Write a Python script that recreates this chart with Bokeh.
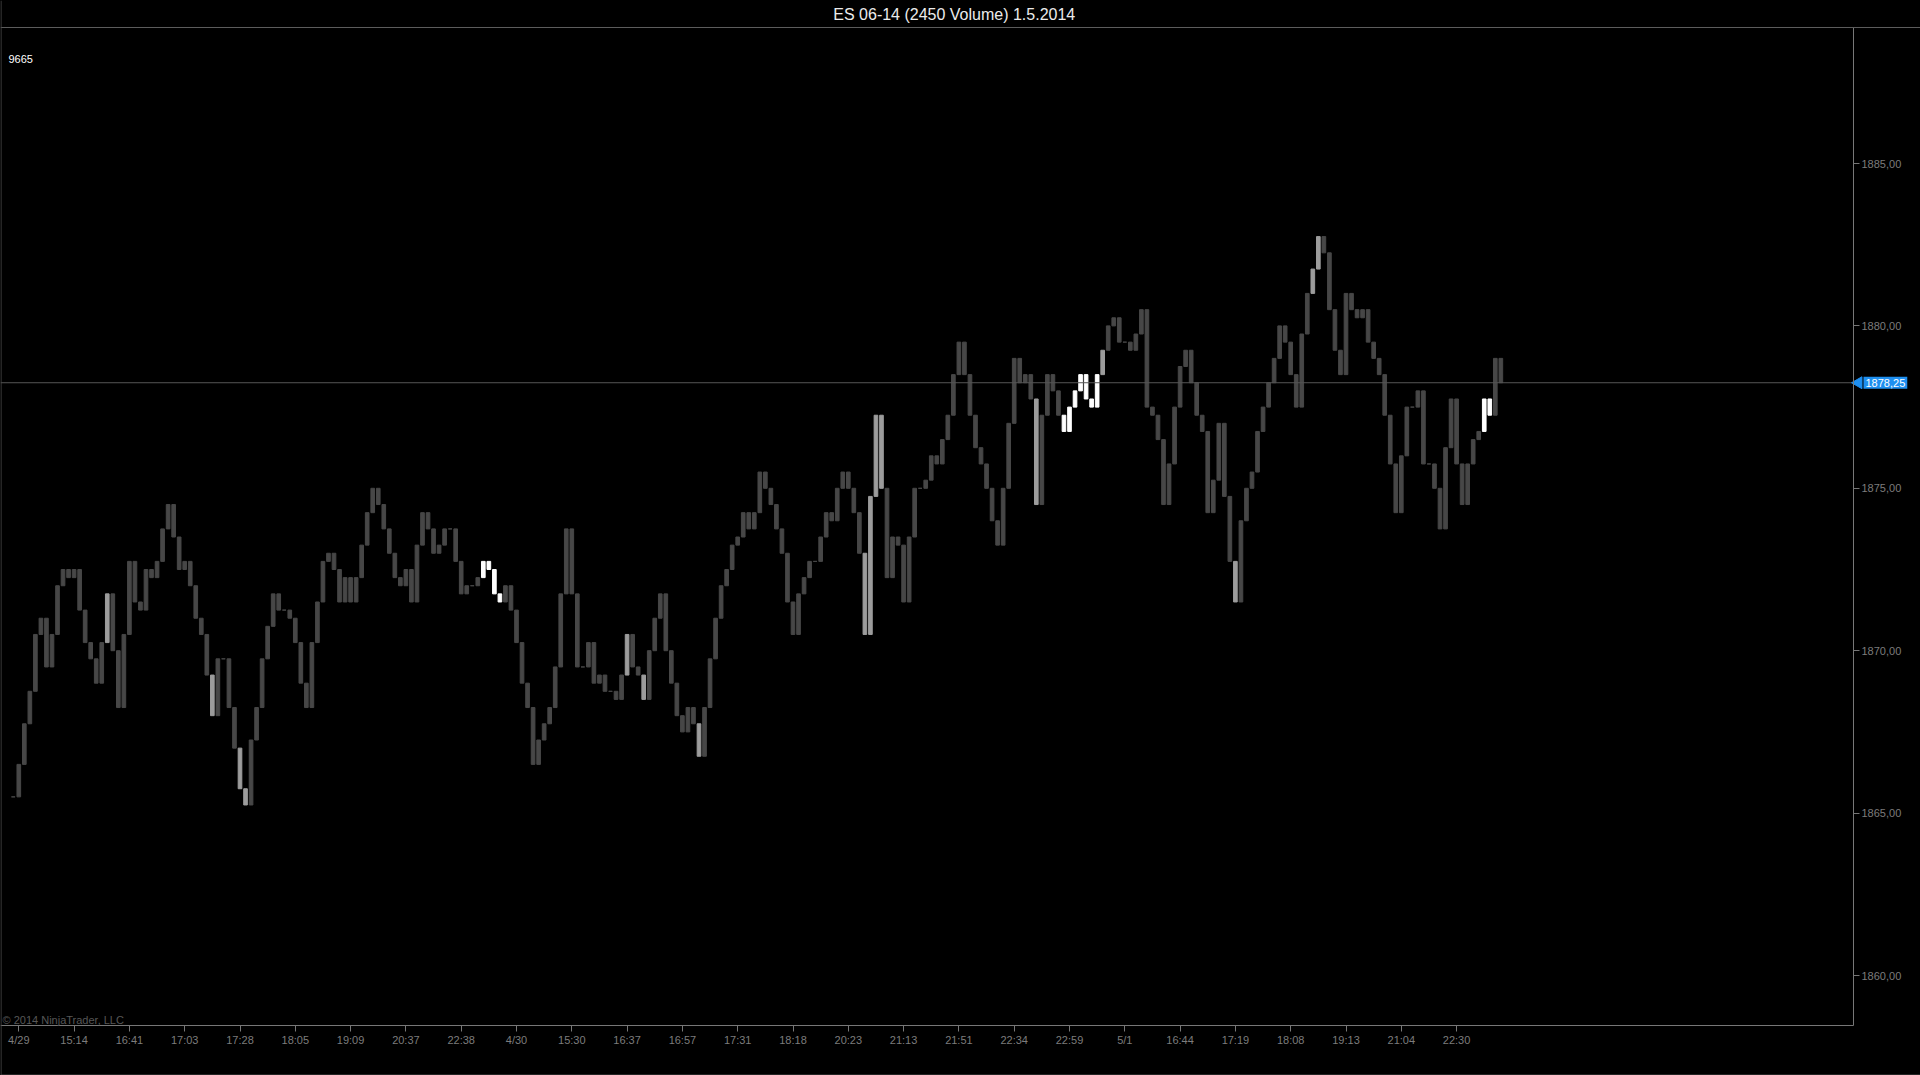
import math
from bokeh.plotting import figure
from bokeh.models import ColumnDataSource, FixedTicker, Span, Label
from bokeh.embed import file_html
from bokeh.resources import INLINE

# ---------------- data ----------------
closes = [
    1865.5, 1866.5, 1867.75, 1868.75, 1870.5, 1871, 1869.5, 1870.5, 1872, 1872.5,
    1872.25, 1872.5, 1871.25, 1870.25, 1869.75, 1869, 1870.25, 1871.75, 1870, 1868.25,
    1870.5, 1872.75, 1871.5, 1871.25, 1872.5, 1872.25, 1872.75, 1873.75, 1874.5, 1873.5,
    1872.5, 1872.75, 1872, 1871, 1870.5, 1869.25, 1868, 1869.75, 1869.75, 1868.25,
    1867, 1865.75, 1865.25, 1867.25, 1868.25, 1869.75, 1870.75, 1871.75, 1871.25, 1871.25,
    1871, 1870.25, 1869, 1868.25, 1870.25, 1871.5, 1872.75, 1873, 1872.5, 1871.5,
    1872.25, 1871.5, 1872.25, 1873.25, 1874.25, 1875, 1874.5, 1873.75, 1873, 1872.25,
    1872, 1872.5, 1871.5, 1873.25, 1874.25, 1873.75, 1873, 1873.25, 1873.75, 1873.75,
    1872.75, 1871.75, 1872, 1872, 1872.25, 1872.75, 1872.5, 1871.75, 1871.5, 1872,
    1871.25, 1870.25, 1869, 1868.25, 1866.5, 1867.25, 1867.75, 1868.25, 1869.5, 1871.75,
    1873.75, 1871.75, 1869.5, 1869.5, 1870.25, 1869, 1869.25, 1868.75, 1868.75, 1868.5,
    1869.25, 1870.5, 1869.5, 1869.25, 1868.5, 1870, 1871, 1871.75, 1870, 1869,
    1868, 1867.5, 1868.25, 1867.75, 1866.75, 1868.25, 1869.75, 1871, 1872, 1872.5,
    1873.25, 1873.5, 1874.25, 1873.75, 1874.25, 1875.5, 1875, 1874.5, 1873.75, 1873,
    1871.5, 1870.5, 1871.75, 1872.25, 1872.75, 1872.75, 1873.5, 1874.25, 1874, 1875,
    1875.5, 1875, 1874.25, 1873, 1870.5, 1874.75, 1877.25, 1875, 1872.25, 1873.5,
    1873.25, 1871.5, 1873.5, 1875, 1875, 1875.25, 1876, 1875.75, 1876.5, 1877.25,
    1878.5, 1879.5, 1878.5, 1877.25, 1876.25, 1875.75, 1875, 1874, 1873.25, 1875,
    1877, 1879, 1878.25, 1878.5, 1877.75, 1874.5, 1877.25, 1878.5, 1878, 1877.25,
    1876.75, 1877.5, 1878, 1878.5, 1877.75, 1877.5, 1878.5, 1879.25, 1880, 1880.25,
    1879.5, 1879.5, 1879.25, 1879.75, 1880.5, 1877.5, 1877.25, 1876.5, 1874.5, 1875.75,
    1877.5, 1878.75, 1879.25, 1878.25, 1877.25, 1876.75, 1874.25, 1875.25, 1877, 1874.75,
    1872.75, 1871.5, 1874, 1875, 1875.5, 1876.75, 1877.5, 1878.25, 1879, 1880,
    1879.5, 1878.5, 1877.5, 1879.75, 1881, 1881.75, 1882.75, 1882.25, 1880.5, 1879.25,
    1878.5, 1881, 1880.5, 1880.25, 1880.5, 1879.5, 1879, 1878.5, 1877.25, 1875.75,
    1874.25, 1876, 1877.5, 1877.5, 1878, 1875.75, 1875.75, 1875, 1873.75, 1876.25,
    1877.75, 1875.75, 1874.5, 1875.75, 1876.5, 1876.75, 1877.75, 1877.25, 1879, 1878.25,
]

light_bars = [17, 36, 41, 42, 111, 114, 124, 154, 155, 156, 157, 185, 197, 221, 235, 236]
white_bars = [85, 86, 87, 88, 190, 191, 192, 193, 194, 195, 196, 266, 267]

tick_bars = [1 + 10 * k for k in range(27)]
tick_labels = ["4/29", "15:14", "16:41", "17:03", "17:28", "18:05", "19:09", "20:37",
               "22:38", "4/30", "15:30", "16:37", "16:57", "17:31", "18:18", "20:23",
               "21:13", "21:51", "22:34", "22:59", "5/1", "16:44", "17:19", "18:08",
               "19:13", "21:04", "22:30"]

price_ticks = [1860, 1865, 1870, 1875, 1880, 1885]
price_tick_labels = ["1860,00", "1865,00", "1870,00", "1875,00", "1880,00", "1885,00"]

last_price = 1878.25
last_price_label = "1878,25"
title_text = "ES 06-14 (2450 Volume)  1.5.2014"
counter_text = "9665"
copyright_text = "\u00a9 2014 NinjaTrader, LLC"

# ---------------- layout (pixels) ----------------
W, H = 1920, 1075
BAR_PX = 5.53            # pixel spacing of bars
FIRST_TICK_PX = 18.3     # pixel position of first time tick
PLOT_RIGHT_PX = 1853     # price scale line
PLOT_TOP_PX = 27
PLOT_BOTTOM_PX = 1025
PX_PER_POINT = 32.48
REF_PRICE, REF_PRICE_PX = 1885.0, 163.0

x0 = tick_bars[0] - FIRST_TICK_PX / BAR_PX
x1 = x0 + W / BAR_PX
y_top = REF_PRICE + REF_PRICE_PX / PX_PER_POINT
y_bot = y_top - H / PX_PER_POINT


def px_to_x(px):
    return x0 + px / BAR_PX


def px_to_y(py):
    return y_top - py / PX_PER_POINT


plot_right_x = px_to_x(PLOT_RIGHT_PX)
plot_top_y = px_to_y(PLOT_TOP_PX)
plot_bottom_y = px_to_y(PLOT_BOTTOM_PX)

# ---------------- build ----------------
n = len(closes)
opens = [closes[0]] + closes[:-1]
shade_colors = {0: "#474747", 1: "#9c9c9c", 2: "#ffffff"}
shade = [0] * n
for i in light_bars:
    shade[i] = 1
for i in white_bars:
    shade[i] = 2
order = sorted(range(n), key=lambda k: shade[k])
src = ColumnDataSource(dict(
    x=[k for k in order],
    top=[max(opens[k], closes[k]) for k in order],
    bottom=[min(opens[k], closes[k]) for k in order],
    color=[shade_colors[shade[k]] for k in order],
))

p = figure(width=W, height=H, min_border=0,
           x_range=(x0, x1), y_range=(y_bot, y_top),
           y_axis_location="right", output_backend="svg", toolbar_location=None,
           background_fill_color="black", border_fill_color="black")
p.grid.visible = False
p.outline_line_color = None

p.vbar(x="x", top="top", bottom="bottom", width=0.66, fill_color="color",
       line_color="color", line_width=1, source=src)

# last price line + marker
p.segment(x0=[x0], y0=[last_price], x1=[plot_right_x], y1=[last_price],
          line_color="#555555", line_width=1)
p.scatter(x=[px_to_x(PLOT_RIGHT_PX + 5)], y=[last_price], marker="triangle",
          angle=math.pi / 2, size=12, fill_color="#1e8ff0", line_color="#1e8ff0")
p.add_layout(Label(x=PLOT_RIGHT_PX + 10, y=last_price, x_units="screen", y_units="data",
                   text=last_price_label, text_align="left", text_baseline="middle",
                   text_color="#ffffff", text_font="Liberation Sans", text_font_size="11px",
                   background_fill_color="#1e8ff0", padding=2))

# window border and header line
p.add_layout(Span(location=plot_top_y, dimension="width", line_color="#5c5c5c", line_width=1))
p.add_layout(Span(location=px_to_x(0.5), dimension="height", line_color="#4a4a4a", line_width=1))
p.add_layout(Span(location=px_to_y(H - 0.5), dimension="width", line_color="#4a4a4a", line_width=1))

xa, ya = p.xaxis[0], p.yaxis[0]
xa.fixed_location = plot_bottom_y
xa.bounds = (x0, plot_right_x)
ya.fixed_location = plot_right_x
ya.bounds = (plot_bottom_y, plot_top_y)
for ax in (xa, ya):
    ax.axis_line_color = "#777777"
    ax.major_tick_line_color = "#777777"
    ax.major_tick_in = 0
    ax.major_tick_out = 6
    ax.minor_tick_line_color = None
    ax.major_label_text_color = "#7c7c7c"
    ax.major_label_text_font = "Liberation Sans"
    ax.major_label_text_font_size = "11px"
    ax.major_label_standoff = 2

xa.ticker = FixedTicker(ticks=tick_bars)
xa.major_label_overrides = {t: l for t, l in zip(tick_bars, tick_labels)}
ya.ticker = FixedTicker(ticks=price_ticks)
ya.major_label_overrides = {t: l for t, l in zip(price_ticks, price_tick_labels)}

# texts (screen units are measured from the frame's bottom-left corner)
p.add_layout(Label(x=956, y=H - 13.5, x_units="screen", y_units="screen", text=title_text,
                   text_align="center", text_baseline="middle", text_color="#ececec",
                   text_font="Liberation Sans", text_font_size="16px"))
p.add_layout(Label(x=8, y=H - 58, x_units="screen", y_units="screen", text=counter_text,
                   text_align="left", text_baseline="middle", text_color="#ffffff",
                   text_font="Liberation Sans", text_font_size="11px"))
p.add_layout(Label(x=2, y=H - 1019, x_units="screen", y_units="screen", text=copyright_text,
                   text_align="left", text_baseline="middle", text_color="#575757",
                   text_font="Liberation Sans", text_font_size="11px"))

html = file_html(p, INLINE)
html = html.replace("</head>", "<style>html,body{background:#000000;}</style></head>", 1)
open("out.html", "w").write(html)
